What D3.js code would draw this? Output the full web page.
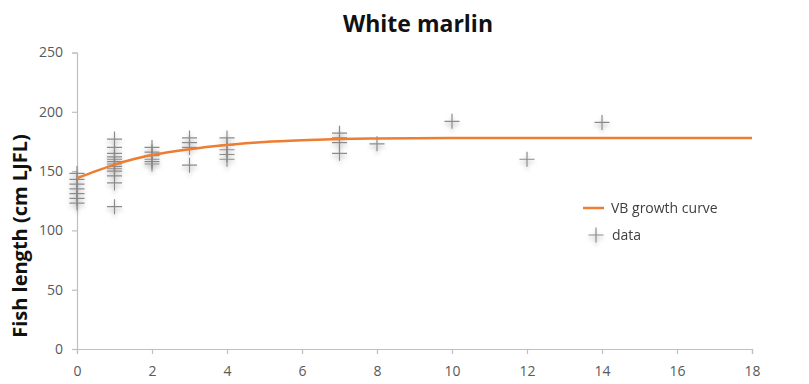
<!DOCTYPE html>
<html>
<head>
<meta charset="utf-8">
<script src="https://cdn.jsdelivr.net/npm/d3@7"></script>
<style>
  body { margin: 0; background: #fff; }
  text { font-family: "Open Sans", "Liberation Sans", sans-serif; }
</style>
</head>
<body>
<div id="chart"></div>
<script>
// age (years) and length (cm LJFL) of sampled fish
const ages = [0,0,0,0,0,0,0,
  1,1,1,1,1,1,1,1,1,1,1,1,1,
  2,2,2,2,2,2,
  3,3,3,3,
  4,4,4,4,4,
  7,7,7,7,
  8,10,12,14];
const lengths = [148,143,139,135,131,127,123,
  177,170,165,162,160,158,156,154,152,150,146,140,120,
  170,166,163,160,158,156,
  178,174,170,155,
  178,172,168,164,160,
  182,178,174,165,
  173,192,160,191];

// VB growth curve
const curveAges = [0,0.5,1,1.5,2,3,4,5,6,7,8,10,12,14,16,18];
const curveLengths = [144,150,155.5,160,163.5,168.5,172,174.5,176,177,177.5,178,178,178,178,178];

const xTicks = [0,2,4,6,8,10,12,14,16,18];
const yTicks = [0,50,100,150,200,250];

const width = 809, height = 384;
const plotLeft = 77, plotRight = 752, plotTop = 52.5, plotBottom = 349;

const svg = d3.select("#chart")
  .append("svg")
  .attr("width", width)
  .attr("height", height);

const defs = svg.append("defs");
const f = defs.append("filter").attr("id", "shadow")
  .attr("x", "-50%").attr("y", "-50%").attr("width", "200%").attr("height", "220%");
f.append("feDropShadow").attr("dx", 0).attr("dy", 3).attr("stdDeviation", 2)
  .attr("flood-color", "#000").attr("flood-opacity", 0.3);

const x = d3.scaleLinear().domain([0, 18]).range([plotLeft, plotRight]);
const y = d3.scaleLinear().domain([0, 250]).range([plotBottom, plotTop]);

// title
svg.append("text")
  .attr("x", 418).attr("y", 32)
  .attr("text-anchor", "middle")
  .style("font-size", "23px").style("font-weight", "bold").style("fill", "#111")
  .text("White marlin");

// x axis
const xAxis = svg.append("g")
  .attr("transform", "translate(0," + plotBottom + ")")
  .call(d3.axisBottom(x).tickValues(xTicks).tickSize(5).tickPadding(12));
// y axis
const yAxis = svg.append("g")
  .attr("transform", "translate(" + plotLeft + ",0)")
  .call(d3.axisLeft(y).tickValues(yTicks).tickSize(5).tickPadding(9));

[xAxis, yAxis].forEach(a => {
  a.select(".domain").attr("stroke", "#bfbfbf").attr("stroke-width", 1.2);
  a.selectAll(".tick line").attr("stroke", "#bfbfbf").attr("stroke-width", 1.2);
  a.selectAll(".tick text").style("font-size", "14px").style("fill", "#595959");
});

// y label
svg.append("text")
  .attr("transform", "translate(27," + 236 + ")rotate(-90)")
  .attr("text-anchor", "middle")
  .style("font-size", "20px").style("font-weight", "bold").style("fill", "#111")
  .text("Fish length (cm LJFL)");

const plus = "M-7.5,0H7.5M0,-7.5V7.5";

// data markers
svg.append("g").attr("filter", "url(#shadow)")
  .selectAll("path")
  .data(ages.map((a, i) => [a, lengths[i]]))
  .enter()
  .append("path")
  .attr("d", plus)
  .attr("transform", d => "translate(" + x(d[0]) + "," + y(d[1]) + ")")
  .attr("stroke", "#8a8a8a")
  .attr("stroke-width", 1.2)
  .attr("fill", "none");

// growth curve
const line = d3.line()
  .x(d => x(d[0]))
  .y(d => y(d[1]))
  .curve(d3.curveMonotoneX);

svg.append("path")
  .datum(curveAges.map((a, i) => [a, curveLengths[i]]))
  .attr("d", line)
  .attr("fill", "none")
  .attr("stroke", "#ED7D31")
  .attr("stroke-width", 2.5);

// legend
const legend = svg.append("g");
legend.append("line")
  .attr("x1", 583).attr("x2", 604).attr("y1", 208).attr("y2", 208)
  .attr("stroke", "#ED7D31").attr("stroke-width", 2.5);
legend.append("text")
  .attr("x", 611).attr("y", 213)
  .style("font-size", "14px").style("fill", "#404040")
  .text("VB growth curve");
legend.append("path")
  .attr("d", plus)
  .attr("transform", "translate(596,235)")
  .attr("stroke", "#8a8a8a").attr("stroke-width", 1.2).attr("fill", "none")
  .attr("filter", "url(#shadow)");
legend.append("text")
  .attr("x", 612).attr("y", 240)
  .style("font-size", "14px").style("fill", "#404040")
  .text("data");
</script>
</body>
</html>
